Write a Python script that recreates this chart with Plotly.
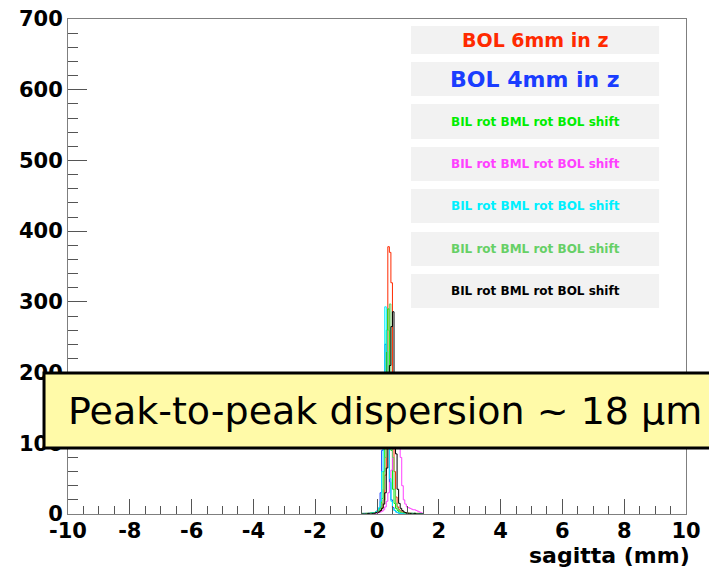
import plotly.graph_objects as go

# Histogram binning (mm): 40 bins of 0.05 mm starting at -0.5 mm
bin_start = -0.5
bin_width = 0.05

# Sagitta distributions (entries per bin)
bol_6mm = [0, 0, 1, 0, 0, 1, 0, 1, 1, 2,
           2, 3, 5, 9, 20, 55, 160, 378, 370, 327,
           150, 60, 24, 10, 6, 4, 3, 2, 1, 2,
           1, 1, 0, 1, 0, 0, 1, 0, 0, 0]
bol_4mm = [0, 1, 0, 0, 1, 1, 1, 2, 2, 3,
           5, 8, 30, 90, 170, 240, 200, 110, 45, 20,
           9, 5, 3, 2, 1, 1, 1, 0, 1, 0,
           0, 0, 1, 0, 0, 0, 0, 0, 0, 0]
shift_green = [1, 0, 0, 1, 0, 1, 2, 1, 2, 3,
               4, 6, 10, 22, 60, 150, 260, 290, 200, 90,
               35, 15, 8, 5, 3, 2, 2, 1, 1, 1,
               1, 0, 1, 0, 1, 0, 0, 1, 0, 0]
shift_magenta = [0, 0, 0, 0, 0, 0, 1, 0, 1, 1,
                 2, 2, 3, 4, 6, 10, 18, 30, 45, 62,
                 95, 150, 185, 170, 120, 80, 40, 20, 14, 10,
                 9, 8, 7, 6, 6, 5, 4, 3, 2, 1]
shift_cyan = [0, 0, 1, 0, 0, 1, 1, 2, 2, 3,
              5, 9, 18, 60, 150, 293, 230, 120, 50, 18,
              8, 5, 3, 2, 1, 1, 1, 1, 0, 1,
              0, 0, 0, 1, 0, 0, 0, 0, 0, 0]
shift_lightgreen = [0, 0, 0, 1, 0, 0, 1, 1, 2, 2,
                    3, 5, 8, 15, 35, 80, 170, 260, 297, 180,
                    80, 35, 15, 8, 5, 3, 2, 2, 1, 1,
                    1, 0, 1, 0, 0, 1, 0, 0, 0, 0]
shift_black = [0, 0, 0, 0, 1, 0, 0, 1, 1, 2,
               2, 3, 5, 8, 14, 30, 65, 130, 210, 265,
               286, 180, 85, 35, 15, 8, 5, 3, 2, 1,
               1, 1, 0, 0, 1, 0, 0, 0, 0, 0]

labels = ["BOL 6mm in z", "BOL 4mm in z",
          "BIL rot BML rot BOL shift", "BIL rot BML rot BOL shift",
          "BIL rot BML rot BOL shift", "BIL rot BML rot BOL shift",
          "BIL rot BML rot BOL shift"]
series = [bol_6mm, bol_4mm, shift_green, shift_magenta,
          shift_cyan, shift_lightgreen, shift_black]
colors = ["#ff2a00", "#1a3dff", "#00ee00", "#ff40ff",
          "#00f0ff", "#66d066", "#000000"]
label_sizes = [19, 22, 12, 12, 12, 12, 12]

x_ticks = [-10, -8, -6, -4, -2, 0, 2, 4, 6, 8, 10]
y_ticks = [0, 100, 200, 300, 400, 500, 600, 700]

note_text = "Peak-to-peak dispersion ~ 18 \u03bcm"

fig = go.Figure()

# Draw each histogram as a closed step outline
for counts, color, name in zip(series, colors, labels):
    n = len(counts)
    edges = [bin_start + bin_width * i for i in range(n + 1)]
    xs = [edges[0]] + edges
    ys = [0] + list(counts) + [0]
    fig.add_trace(go.Scatter(
        x=xs, y=ys, mode="lines", line=dict(color=color, width=1, shape="hv"),
        name=name, showlegend=False, hoverinfo="skip"))

# Legend panel: grey boxes with coloured captions (data coordinates)
box_x = (1.10, 9.13)
box_y = [(650.5, 690.1), (591.1, 639.2), (530.3, 579.8), (470.9, 519.0),
         (411.5, 459.6), (350.7, 398.8), (291.3, 339.4)]
for (y0, y1), text, color, size in zip(box_y, labels, colors, label_sizes):
    fig.add_shape(type="rect", xref="x", yref="y", x0=box_x[0], x1=box_x[1],
                  y0=y0, y1=y1, fillcolor="#f2f2f2", line=dict(width=0))
    fig.add_annotation(x=(box_x[0] + box_x[1]) / 2, y=(y0 + y1) / 2,
                       xref="x", yref="y", text=text, showarrow=False,
                       font=dict(family="DejaVu Sans", size=size, color=color,
                                 weight="bold"),
                       xanchor="center", yanchor="middle")

# Highlighted note across the lower part of the plot
fig.add_shape(type="rect", xref="paper", yref="paper",
              x0=-0.0388, x1=1.2, y0=0.1333, y1=0.2848,
              fillcolor="#fffaa8", line=dict(color="black", width=3),
              layer="above")
fig.add_annotation(xref="paper", yref="paper", x=-0.004, y=0.209,
                   text=note_text, showarrow=False, xanchor="left",
                   yanchor="middle",
                   font=dict(family="DejaVu Sans", size=38, color="black"))

# x-axis title at the bottom right
fig.add_annotation(xref="paper", yref="paper", x=1.01, y=-0.083,
                   text="sagitta (mm)", showarrow=False, xanchor="right",
                   yanchor="middle",
                   font=dict(family="DejaVu Sans", size=22, color="black",
                             weight="bold"))

x_font = dict(family="DejaVu Sans", size=21, color="black", weight="bold")
y_font = dict(family="DejaVu Sans", size=21, color="black", weight="bold")

fig.update_xaxes(range=[-10, 10], tickmode="array", tickvals=x_ticks,
                 ticktext=[str(v) for v in x_ticks], automargin=False,
                 ticklabelstandoff=-2,
                 ticks="inside", ticklen=15, tickcolor="#555555",
                 minor=dict(ticks="inside", ticklen=8, dtick=0.5,
                            tickcolor="#555555"),
                 showline=True, linecolor="#7f7f7f", linewidth=1, mirror=True,
                 showgrid=False, zeroline=False, tickfont=x_font)
fig.update_yaxes(range=[0, 700], tickmode="array", tickvals=y_ticks,
                 ticktext=[str(v) for v in y_ticks], automargin=False,
                 ticks="inside", ticklen=19, tickcolor="#555555",
                 minor=dict(ticks="inside", ticklen=10, dtick=20,
                            tickcolor="#555555"),
                 showline=True, linecolor="#7f7f7f", linewidth=1, mirror=True,
                 showgrid=False, zeroline=False, tickfont=y_font)

fig.update_layout(width=709, height=569,
                  margin=dict(l=68, r=23, t=19, b=55),
                  paper_bgcolor="white", plot_bgcolor="white",
                  showlegend=False)

fig.write_html("out.html")
